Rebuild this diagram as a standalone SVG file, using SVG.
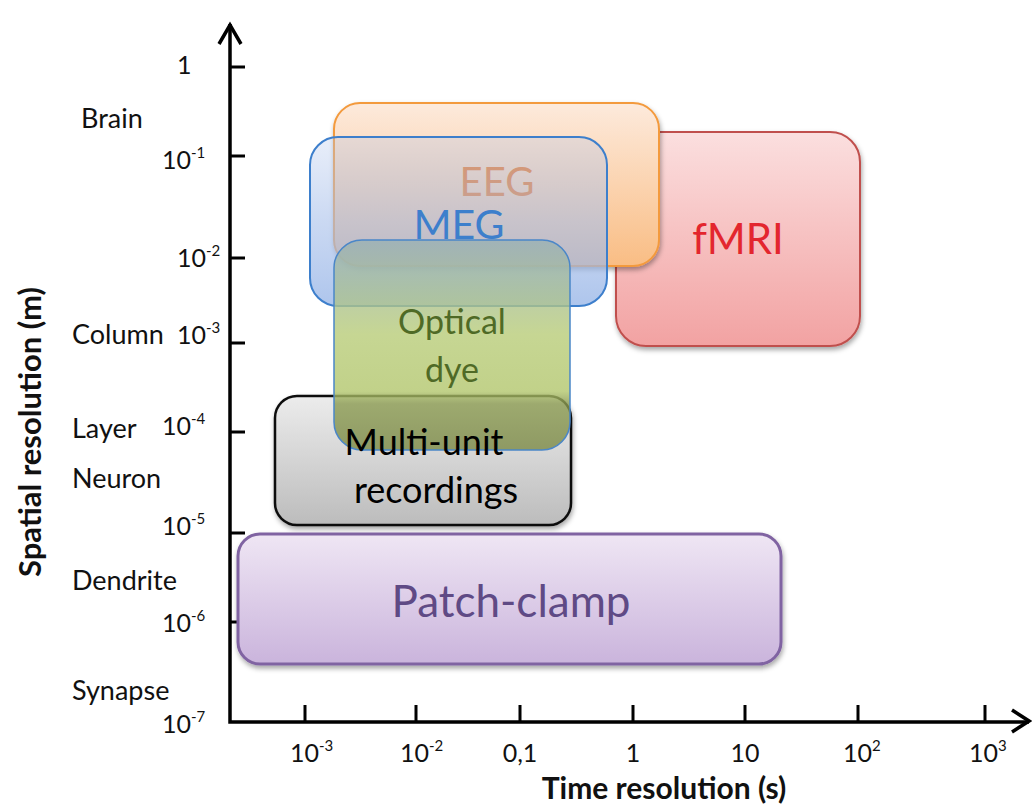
<svg xmlns="http://www.w3.org/2000/svg" width="1032" height="808" viewBox="0 0 1032 808">
<style>
.lbl{font-family:Lato,"Liberation Sans",sans-serif;font-size:27px;fill:#111}
.num{font-family:Lato,"Liberation Sans",sans-serif;font-size:25px;fill:#111}
.sup{font-size:15px}
.axt{font-family:Lato,"Liberation Sans",sans-serif;font-weight:bold;fill:#111}
.ax{stroke:#000;stroke-width:3.5;fill:none}
.tk{stroke:#000;stroke-width:3;fill:none}
.bt{font-family:Lato,"Liberation Sans",sans-serif;text-anchor:middle}
</style>
<defs>
<linearGradient id="gEEG" x1="0" y1="0" x2="0" y2="1"><stop offset="0" stop-color="#fdeadc"/><stop offset="1" stop-color="#f9bd84"/></linearGradient>
<linearGradient id="gMRI" x1="0" y1="0" x2="0" y2="1"><stop offset="0" stop-color="#fbdfdf"/><stop offset="1" stop-color="#f2a2a2"/></linearGradient>
<linearGradient id="gMEG" x1="0" y1="0" x2="0" y2="1"><stop offset="0" stop-color="#b3c6ec" stop-opacity="0.3"/><stop offset="0.5" stop-color="#a7bfea" stop-opacity="0.6"/><stop offset="1" stop-color="#93b2e6" stop-opacity="0.75"/></linearGradient>
<linearGradient id="gDye" x1="0" y1="0" x2="0" y2="1"><stop offset="0" stop-color="#98b0b4"/><stop offset="0.45" stop-color="#b8cc78"/><stop offset="0.72" stop-color="#b2c66c"/><stop offset="0.78" stop-color="#8a9a50"/><stop offset="1" stop-color="#7c8a46"/></linearGradient>
<linearGradient id="gMU" x1="0" y1="0" x2="0" y2="1"><stop offset="0" stop-color="#ececec"/><stop offset="1" stop-color="#bcbcbc"/></linearGradient>
<linearGradient id="gPC" x1="0" y1="0" x2="0" y2="1"><stop offset="0" stop-color="#efe6f4"/><stop offset="1" stop-color="#cab4dc"/></linearGradient>
<filter id="sh" x="-10%" y="-10%" width="120%" height="125%"><feDropShadow dx="1" dy="3" stdDeviation="2.5" flood-color="#000" flood-opacity="0.35"/></filter>
</defs>
<rect width="1032" height="808" fill="#fff"/>
<g id="axes">
<path class="ax" d="M230 24 V722 H1029"/>
<path class="ax" d="M219 44 L230 25 L241 44"/>
<path class="ax" d="M1012 710 L1029 721 L1012 732"/>
<path class="tk" d="M230 67 H245 M230 156 H245 M230 258 H245 M230 343 H245 M230 432 H245 M230 533 H245 M230 622 H245"/>
<path class="tk" d="M305 705 V721 M416 705 V721 M520 705 V721 M633 705 V721 M745 705 V721 M858 705 V721 M985 705 V721"/>
</g>
<g id="y-labels">
<text class="num" x="177" y="74">1</text>
<text class="lbl" x="81" y="128">Brain</text>
<text class="num" x="162" y="169">10<tspan class="sup" dy="-11">-1</tspan></text>
<text class="num" x="177" y="267">10<tspan class="sup" dy="-11">-2</tspan></text>
<text class="lbl" x="72" y="344">Column</text>
<text class="num" x="177" y="344">10<tspan class="sup" dy="-11">-3</tspan></text>
<text class="lbl" x="72" y="438">Layer</text>
<text class="num" x="162" y="435">10<tspan class="sup" dy="-11">-4</tspan></text>
<text class="lbl" x="72" y="488">Neuron</text>
<text class="num" x="162" y="535">10<tspan class="sup" dy="-11">-5</tspan></text>
<text class="lbl" x="72" y="590">Dendrite</text>
<text class="num" x="162" y="632">10<tspan class="sup" dy="-11">-6</tspan></text>
<text class="lbl" x="72" y="700">Synapse</text>
<text class="num" x="162" y="733">10<tspan class="sup" dy="-11">-7</tspan></text>
<text class="axt" font-size="31" transform="translate(41 432) rotate(-90)" text-anchor="middle">Spatial resolution (m)</text>
</g>
<g id="x-labels">
<text class="num" x="290" y="762">10<tspan class="sup" dy="-11">-3</tspan></text>
<text class="num" x="400" y="762">10<tspan class="sup" dy="-11">-2</tspan></text>
<text class="num" x="520" y="762" text-anchor="middle">0,1</text>
<text class="num" x="633" y="762" text-anchor="middle">1</text>
<text class="num" x="745" y="762" text-anchor="middle">10</text>
<text class="num" x="843" y="762">10<tspan class="sup" dy="-11">2</tspan></text>
<text class="num" x="969" y="762">10<tspan class="sup" dy="-11">3</tspan></text>
<text class="axt" font-size="30" x="664" y="799" text-anchor="middle">Time resolution (s)</text>
</g>
<g id="fMRI">
<rect x="616" y="132" width="244" height="214" rx="30" fill="url(#gMRI)" stroke="#c0504d" stroke-width="2" filter="url(#sh)"/>
<text class="bt" x="738" y="254" font-size="42" fill="#e3262e">fMRI</text>
</g>
<g id="EEG">
<rect x="334" y="103" width="325" height="163" rx="26" fill="url(#gEEG)" stroke="#f39a3e" stroke-width="2" filter="url(#sh)"/>
<text class="bt" x="497" y="196" font-size="40" fill="#ec7a2a">EEG</text>
</g>
<g id="MEG">
<rect x="310" y="137" width="297" height="169" rx="28" fill="url(#gMEG)" stroke="#3d7fcc" stroke-width="2"/>
<text class="bt" x="459" y="239" font-size="41" fill="#3d7fcc">MEG</text>
</g>
<g id="Multi-unit">
<rect x="275" y="396" width="296" height="129" rx="22" fill="url(#gMU)" stroke="#111" stroke-width="2.5" filter="url(#sh)"/>
</g>
<g id="Optical-dye">
<rect x="334" y="240" width="236" height="210" rx="28" fill="url(#gDye)" fill-opacity="0.8" stroke="#4a86c8" stroke-width="1.5"/>
<text class="bt" x="452" y="334" font-size="34" fill="#4f6a26">Optical</text>
<text class="bt" x="452" y="382" font-size="34" fill="#4f6a26">dye</text>
</g>
<g id="Multi-unit-label">
<text class="bt" x="424" y="455" font-size="36" fill="#000">Multi-unit</text>
<text class="bt" x="436" y="503" font-size="36" fill="#000">recordings</text>
</g>
<g id="Patch-clamp">
<rect x="238" y="534" width="543" height="130" rx="22" fill="url(#gPC)" stroke="#8064a2" stroke-width="3" filter="url(#sh)"/>
<text class="bt" x="511" y="617" font-size="44" fill="#5f4a85">Patch-clamp</text>
</g>
</svg>
